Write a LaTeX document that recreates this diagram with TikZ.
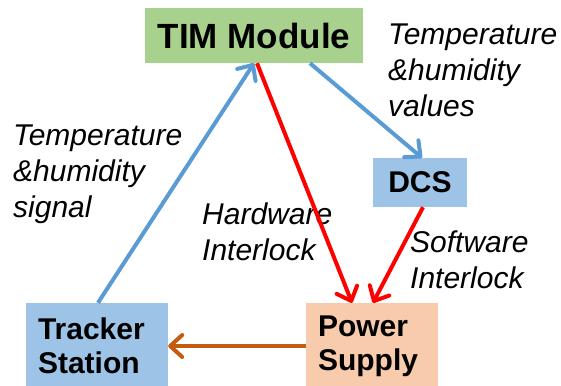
\documentclass[tikz,border=0pt]{standalone}
\usepackage{fontspec}
\setmainfont{Liberation Sans}
\usetikzlibrary{arrows.meta}
\definecolor{timgreen}{HTML}{A9D18E}
\definecolor{boxblue}{HTML}{9DC3E6}
\definecolor{peach}{HTML}{F8CBAD}
\definecolor{arrblue}{HTML}{5B9BD5}
\definecolor{arrbrown}{HTML}{C55A11}
\definecolor{arrred}{HTML}{FF0000}
\tikzset{
  box/.style={inner sep=0pt, font=\bfseries\fontsize{30}{34}\selectfont},
  lbl/.style={inner sep=0pt, anchor=west, align=left, font=\itshape\fontsize{30}{36}\selectfont},
  conn/.style={line width=4pt, -{Straight Barb[length=12pt,width=22pt,round]}},
}
\begin{document}
\begin{tikzpicture}[x=1pt,y=-1pt]
\useasboundingbox (0,0) rectangle (561,385);
\node[box, fill=timgreen, minimum width=218pt, minimum height=55pt, font=\bfseries\fontsize{35}{40}\selectfont] (tim) at (254,35.5) {TIM Module};
\node[box, fill=boxblue, minimum width=94pt, minimum height=49pt] (dcs) at (420,182.5) {DCS};
\node[box, fill=boxblue, minimum width=142pt, minimum height=86pt, text width=118pt, align=left] (track) at (97,346) {Tracker\\Station};
\node[box, fill=peach, minimum width=132pt, minimum height=86pt, text width=108pt, align=left] (power) at (372,346) {Power\\Supply};

\node[lbl] (l1) at (13,174) {Temperature\\\&humidity\\signal};
\node[lbl] (l2) at (388,70) {Temperature\\\&humidity\\values};
\node[lbl] (l3) at (202,231.5) {Hardware\\Interlock};
\node[lbl] (l4) at (410,259.5) {Software\\Interlock};

\draw[conn, arrblue] ([xshift=1pt]track.north) -- (tim.south);
\draw[conn, arrblue] ([xshift=56pt]tim.south) -- ([xshift=2pt]dcs.north);
\draw[conn, arrred] ([xshift=3pt]tim.south) -- ([xshift=-20pt]power.north);
\draw[conn, arrred] ([xshift=3pt]dcs.south) -- ([xshift=1pt]power.north);
\draw[conn, arrbrown] (power.west) -- (track.east);
\end{tikzpicture}
\end{document}
